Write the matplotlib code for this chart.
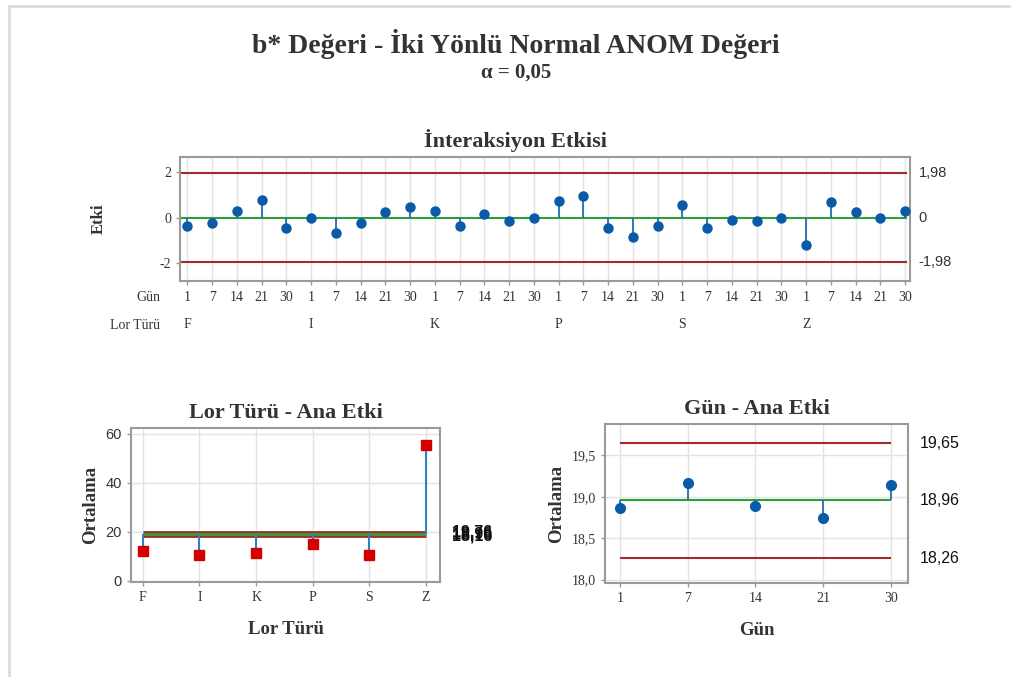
import matplotlib
matplotlib.use("Agg")
import matplotlib.pyplot as plt
from matplotlib.patches import Rectangle

# ---------------- data ----------------
lor_types = ["F", "I", "K", "P", "S", "Z"]
gun_levels = ["1", "7", "14", "21", "30"]

interaction_F = [-0.39, -0.22, 0.30, 0.77, -0.46]
interaction_I = [0.00, -0.68, -0.22, 0.23, 0.48]
interaction_K = [0.30, -0.39, 0.16, -0.14, 0.00]
interaction_P = [0.71, 0.94, -0.46, -0.85, -0.37]
interaction_S = [0.55, -0.46, -0.09, -0.16, 0.00]
interaction_Z = [-1.23, 0.68, 0.24, 0.00, 0.29]
interaction_center = 0.0
interaction_limit = 1.98

lor_means = [12.1, 10.6, 11.4, 15.0, 10.6, 55.5]
lor_center = 18.96
lor_udl = 19.76
lor_ldl = 18.16

gun_means = [18.87, 19.17, 18.89, 18.74, 19.14]
gun_center = 18.96
gun_udl = 19.65
gun_ldl = 18.26

# ---------------- style ----------------
SERIF = ["Liberation Serif", "DejaVu Serif"]
SANS = ["Liberation Sans", "DejaVu Sans"]
TXT = "#333333"
BLUE = "#1f6fb5"
DOT = "#0a5aa8"
RED = "#a52a2a"
GREEN = "#2e9e3a"
SQ = "#d40000"
GRID = "#e3e3e3"
SPINE = "#9a9a9a"

W, H = 1012, 677
fig = plt.figure(figsize=(W / 100, H / 100), dpi=100)


def ax_px(left, top, right, bottom):
    return fig.add_axes([left / W, 1 - bottom / H, (right - left) / W, (bottom - top) / H])


def style_ax(ax):
    for s in ax.spines.values():
        s.set_color(SPINE)
        s.set_linewidth(1.5)
    ax.tick_params(colors=TXT, labelcolor=TXT, length=3, width=1, color=SPINE)
    ax.set_axisbelow(True)


# border
fig.patches.append(Rectangle((9 / W, -0.01), 1.2, 1 - 6 / H + 0.01, transform=fig.transFigure,
                             fill=False, edgecolor="#dcdcdc", linewidth=2))

fig.text(516 / W, 1 - 44 / H, "b* Değeri - İki Yönlü Normal ANOM Değeri", ha="center", va="center",
         fontsize=20, fontweight="bold", family=SERIF, color=TXT)
fig.text(516 / W, 1 - 73 / H, "α = 0,05", ha="center", va="center",
         fontsize=15, fontweight="bold", family=SERIF, color=TXT)

# ---------------- interaction plot ----------------
ax1 = ax_px(180, 157, 910, 281)
style_ax(ax1)
inter = interaction_F + interaction_I + interaction_K + interaction_P + interaction_S + interaction_Z
x1 = list(range(len(inter)))
ax1.set_xlim(-0.3, len(inter) - 1 + 0.2)
ax1.set_ylim(-2.8, 2.67)
ax1.set_xticks(x1)
ax1.set_xticklabels([])
ax1.set_yticks([-2, 0, 2])
ax1.set_yticklabels(["-2", "0", "2"], family=SERIF, fontsize=10)
ax1.grid(True, axis="x", color=GRID, linewidth=1)
ax1.axhline(interaction_limit, color=RED, lw=1.5, xmax=0.995)
ax1.axhline(-interaction_limit, color=RED, lw=1.5, xmax=0.995)
ax1.axhline(interaction_center, color=GREEN, lw=1.5, xmax=0.995)
ax1.vlines(x1, interaction_center, inter, color=BLUE, lw=1.3)
ax1.plot(x1, inter, "o", color=DOT, ms=6.5, clip_on=False, zorder=5)
ax1.set_ylabel("Etki", family=SERIF, fontsize=12, fontweight="bold", color=TXT, labelpad=38)
fig.text(516 / W, 1 - 140 / H, "İnteraksiyon Etkisi", ha="center", va="center",
         family=SERIF, fontsize=16, fontweight="bold", color=TXT)
tr = ax1.get_yaxis_transform()
for v, lab in [(interaction_limit, "1,98"), (interaction_center, "0"), (-interaction_limit, "-1,98")]:
    ax1.text(1.012, v, lab, transform=tr, ha="left", va="center", family=SANS, fontsize=10.5, color=TXT)
xtr = ax1.get_xaxis_transform()
gun_row = gun_levels * len(lor_types)
for xi, g in zip(x1, gun_row):
    ax1.text(xi, -(298 - 281) / 124, g, transform=xtr, ha="center", va="center",
             family=SERIF, fontsize=10, color=TXT)
for i, lt in enumerate(lor_types):
    ax1.text(i * len(gun_levels), -(325 - 281) / 124, lt, transform=xtr, ha="center", va="center",
             family=SERIF, fontsize=10, color=TXT)
fig.text(160 / W, 1 - 298 / H, "Gün", ha="right", va="center", family=SERIF, fontsize=10, color=TXT)
fig.text(160 / W, 1 - 325 / H, "Lor Türü", ha="right", va="center", family=SERIF, fontsize=10, color=TXT)

# ---------------- Lor Türü main effect ----------------
ax2 = ax_px(131, 428, 440, 582)
style_ax(ax2)
x2 = list(range(len(lor_types)))
ax2.set_xlim(-0.21, len(lor_types) - 1 + 0.25)
ax2.set_ylim(-0.5, 62.4)
ax2.set_xticks(x2)
ax2.set_xticklabels(lor_types, family=SERIF, fontsize=10)
ax2.set_yticks([0, 20, 40, 60])
ax2.set_yticklabels(["0", "20", "40", "60"], family=SANS, fontsize=10.5)
ax2.grid(True, color=GRID, linewidth=1)
ax2.hlines([lor_udl, lor_ldl], 0, len(lor_types) - 1, color=RED, lw=2)
ax2.hlines(lor_center, 0, len(lor_types) - 1, color=GREEN, lw=2)
ax2.vlines(x2, lor_center, lor_means, color="#2f80c8", lw=1.5)
ax2.plot(x2, lor_means, "s", color=SQ, ms=7, zorder=5, clip_on=False)
ax2.set_title("Lor Türü - Ana Etki", family=SERIF, fontsize=16, fontweight="bold", color=TXT, pad=7)
ax2.set_xlabel("Lor Türü", family=SERIF, fontsize=13.5, fontweight="bold", color=TXT, labelpad=12)
ax2.set_ylabel("Ortalama", family=SERIF, fontsize=13.5, fontweight="bold", color=TXT, labelpad=5)
tr2 = ax2.get_yaxis_transform()
for v, lab in [(lor_udl, "19,76"), (lor_center, "18,96"), (lor_ldl, "18,16")]:
    ax2.text(1.04, v, lab, transform=tr2, ha="left", va="center", family=SANS, fontsize=11.5,
             fontweight="bold", color="#111111")

# ---------------- Gün main effect ----------------
ax3 = ax_px(605, 424, 908, 583)
style_ax(ax3)
x3 = list(range(len(gun_levels)))
ax3.set_xlim(-0.22, len(gun_levels) - 1 + 0.25)
ax3.set_ylim(17.96, 19.88)
ax3.set_xticks(x3)
ax3.set_xticklabels(gun_levels, family=SERIF, fontsize=10)
ax3.set_yticks([18.0, 18.5, 19.0, 19.5])
ax3.set_yticklabels(["18,0", "18,5", "19,0", "19,5"], family=SERIF, fontsize=10)
ax3.grid(True, color=GRID, linewidth=1)
ax3.hlines([gun_udl, gun_ldl], 0, len(gun_levels) - 1, color=RED, lw=1.5)
ax3.hlines(gun_center, 0, len(gun_levels) - 1, color=GREEN, lw=1.5)
ax3.vlines(x3, gun_center, gun_means, color=BLUE, lw=1.3)
ax3.plot(x3, gun_means, "o", color=DOT, ms=7, zorder=5, clip_on=False)
ax3.set_title("Gün - Ana Etki", family=SERIF, fontsize=16, fontweight="bold", color=TXT, pad=7)
ax3.set_xlabel("Gün", family=SERIF, fontsize=13.5, fontweight="bold", color=TXT, labelpad=12)
ax3.set_ylabel("Ortalama", family=SERIF, fontsize=13.5, fontweight="bold", color=TXT, labelpad=5)
tr3 = ax3.get_yaxis_transform()
for v, lab in [(gun_udl, "19,65"), (gun_center, "18,96"), (gun_ldl, "18,26")]:
    ax3.text(1.04, v, lab, transform=tr3, ha="left", va="center", family=SANS, fontsize=11.5, color="#111111")

fig.savefig("out.png", dpi=100, facecolor="white")
